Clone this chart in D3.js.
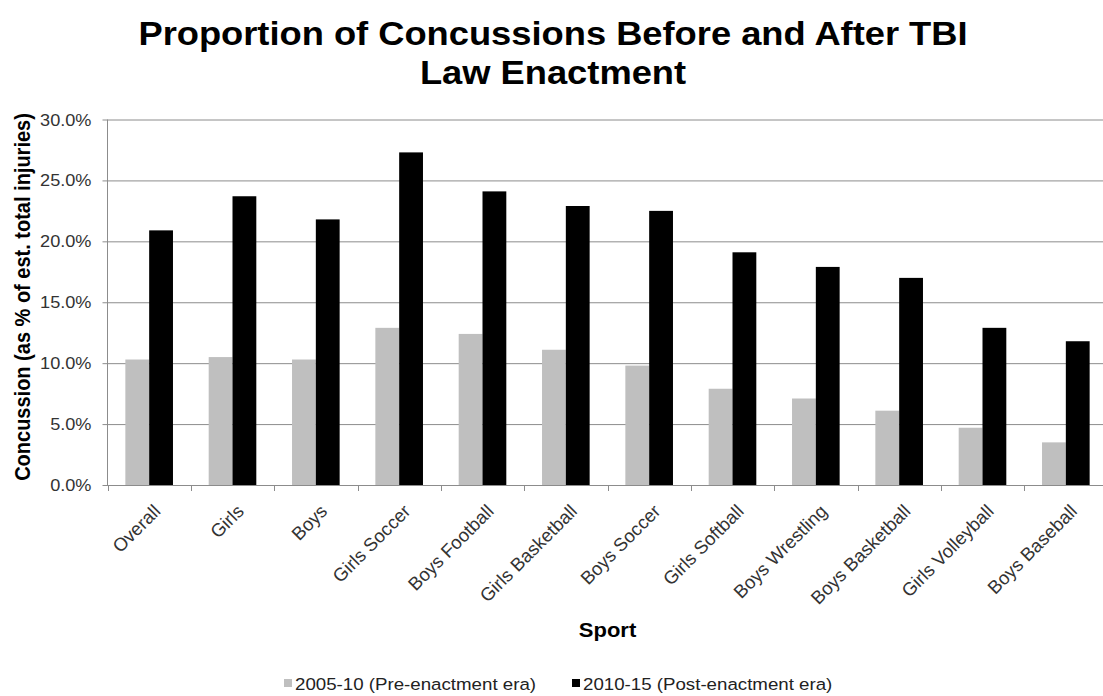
<!DOCTYPE html>
<html>
<head>
<meta charset="utf-8">
<script src="https://cdn.jsdelivr.net/npm/d3@7"></script>
<style>
  body { margin: 0; background: #fff; }
  text { font-family: "Liberation Sans", Arial, Helvetica, sans-serif; }
</style>
</head>
<body>
<div id="chart"></div>
<script>
// values (percent of est. total injuries)
var sports = ["Overall", "Girls", "Boys", "Girls Soccer", "Boys Football", "Girls Basketball",
              "Boys Soccer", "Girls Softball", "Boys Wrestling", "Boys Basketball",
              "Girls Volleyball", "Boys Baseball"];
var preEnactment = [10.3, 10.5, 10.3, 12.9, 12.4, 11.1, 9.8, 7.9, 7.1, 6.1, 4.7, 3.5];
var postEnactment = [20.9, 23.7, 21.8, 27.3, 24.1, 22.9, 22.5, 19.1, 17.9, 17.0, 12.9, 11.8];
var seriesNames = ["2005-10 (Pre-enactment era)", "2010-15 (Post-enactment era)"];
var yTicks = [0, 5, 10, 15, 20, 25, 30];

var width = 1103, height = 696;
var stretch = 1.1; // the original picture is a bit wider than tall in its lettering

var svg = d3.select("#chart").append("svg")
            .attr("width", width)
            .attr("height", height);

var x = d3.scaleBand()
          .domain(sports)
          .range([107.5, 1107.5])
          .paddingInner(0)
          .paddingOuter(0);

var barW = x.bandwidth() / 3.5;
var x1 = d3.scaleBand()
           .domain([0, 1])
           .range([barW * 0.75, barW * 2.75]);

var y = d3.scaleLinear()
          .domain([0, 30])
          .range([485, 119.5]);

var colors = ["#bfbfbf", "#000000"];
var axisColor = "#8c8c8c";

// gridlines + y ticks
var yAxis = d3.axisLeft(y)
              .tickValues(yTicks)
              .tickSize(-(1107.5 - 107.5))
              .tickFormat(function(d) { return ""; });
var gy = svg.append("g")
            .attr("transform", "translate(107.5,0)")
            .call(yAxis);
gy.select(".domain").remove();
gy.selectAll(".tick line")
  .attr("stroke", axisColor)
  .attr("x2", 1000)
  .attr("x1", -5);

gy.selectAll(".tick")
  .append("text")
  .attr("transform", function(d) { return "translate(-16,5.5) scale(" + stretch + ",1)"; })
  .attr("text-anchor", "end")
  .attr("fill", "#333")
  .attr("font-size", "16.5px")
  .text(function(d) { return d.toFixed(1) + "%"; });

// y axis line
svg.append("line")
   .attr("x1", 107.5).attr("x2", 107.5)
   .attr("y1", y(30)).attr("y2", y(0))
   .attr("stroke", axisColor);

// bars
var rows = sports.map(function(s, i) { return { sport: s, vals: [preEnactment[i], postEnactment[i]] }; });
var groups = svg.selectAll(".grp")
                .data(rows)
                .enter()
                .append("g")
                .attr("class", "grp")
                .attr("transform", function(d) { return "translate(" + x(d.sport) + ",0)"; });
groups.selectAll("rect")
      .data(function(d) { return d.vals; })
      .enter()
      .append("rect")
      .attr("x", function(d, i) { return x1(i); })
      .attr("width", x1.bandwidth())
      .attr("y", function(d) { return y(d); })
      .attr("height", function(d) { return y(0) - y(d); })
      .attr("fill", function(d, i) { return colors[i]; });

// x axis line + ticks between categories
svg.append("line")
   .attr("x1", 107.5).attr("x2", 1107.5)
   .attr("y1", 485.5).attr("y2", 485.5)
   .attr("stroke", axisColor);
svg.selectAll(".xtick")
   .data(sports)
   .enter()
   .append("line")
   .attr("class", "xtick")
   .attr("x1", function(d) { return Math.round(x(d)) + 0.5; })
   .attr("x2", function(d) { return Math.round(x(d)) + 0.5; })
   .attr("y1", 485.5).attr("y2", 491)
   .attr("stroke", axisColor);

// category labels
svg.selectAll(".xlabel")
   .data(sports)
   .enter()
   .append("text")
   .attr("class", "xlabel")
   .attr("transform", function(d) {
     return "translate(" + (x(d) + x.bandwidth() / 2 + 3) + ",503) rotate(-45)";
   })
   .attr("text-anchor", "end")
   .attr("dy", "0.72em")
   .attr("fill", "#333")
   .attr("font-size", "18.5px")
   .text(function(d) { return d; });

// title
var titleLines = ["Proportion of Concussions Before and After TBI", "Law Enactment"];
svg.selectAll(".title")
   .data(titleLines)
   .enter()
   .append("text")
   .attr("class", "title")
   .attr("transform", function(d, i) { return "translate(553," + (45 + i * 39) + ") scale(" + stretch + ",1)"; })
   .attr("text-anchor", "middle")
   .attr("font-size", "33px")
   .attr("font-weight", "bold")
   .attr("fill", "#000")
   .text(function(d) { return d; });

// axis titles
svg.append("text")
   .attr("transform", "translate(30,297) scale(" + stretch + ",1) rotate(-90)")
   .attr("text-anchor", "middle")
   .attr("font-size", "20px")
   .attr("font-weight", "bold")
   .text("Concussion (as % of est. total injuries)");

svg.append("text")
   .attr("transform", "translate(607.5,637) scale(" + stretch + ",1)")
   .attr("text-anchor", "middle")
   .attr("font-size", "20px")
   .attr("font-weight", "bold")
   .text("Sport");

// legend
var legendX = [284, 572];
var legend = svg.selectAll(".legend")
                .data(seriesNames)
                .enter()
                .append("g")
                .attr("class", "legend")
                .attr("transform", function(d, i) { return "translate(" + legendX[i] + ",0)"; });
legend.append("rect")
      .attr("x", 0).attr("y", 679)
      .attr("width", 8).attr("height", 8)
      .attr("fill", function(d, i) { return colors[i]; });
legend.append("text")
      .attr("transform", "translate(11,690) scale(" + stretch + ",1)")
      .attr("font-size", "17px")
      .attr("fill", "#222")
      .text(function(d) { return d; });
</script>
</body>
</html>
